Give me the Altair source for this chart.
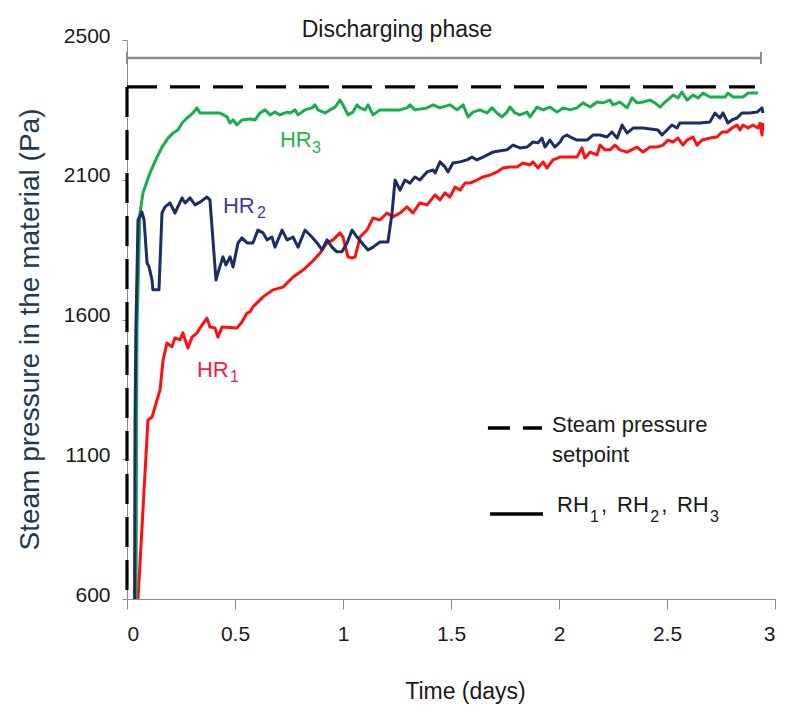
import altair as alt
import pandas as pd

# ---- data (time in days, pressure in Pa) ----
hr3 = [(0.042, 600), (0.044, 1100), (0.046, 1560), (0.060, 1981), (0.074, 2053), (0.106, 2124),
       (0.139, 2181), (0.162, 2217), (0.190, 2249), (0.213, 2267), (0.236, 2278), (0.255, 2303),
       (0.278, 2321), (0.306, 2339), (0.324, 2357), (0.338, 2339), (0.431, 2339), (0.463, 2325),
       (0.477, 2303), (0.491, 2314), (0.509, 2296), (0.532, 2314), (0.569, 2317), (0.593, 2314),
       (0.616, 2339), (0.639, 2350), (0.662, 2332), (0.685, 2342), (0.708, 2332), (0.741, 2342),
       (0.755, 2339), (0.778, 2350), (0.792, 2332), (0.824, 2350), (0.856, 2357), (0.870, 2368),
       (0.884, 2350), (0.917, 2339), (0.940, 2350), (0.963, 2360), (0.986, 2385), (1.000, 2368),
       (1.023, 2332), (1.046, 2342), (1.065, 2368), (1.079, 2357), (1.102, 2350), (1.116, 2368),
       (1.139, 2332), (1.171, 2350), (1.264, 2350), (1.296, 2357), (1.310, 2368), (1.333, 2350),
       (1.389, 2357), (1.417, 2368), (1.449, 2357), (1.495, 2368), (1.528, 2350), (1.556, 2368),
       (1.579, 2325), (1.602, 2342), (1.634, 2350), (1.667, 2339), (1.690, 2357), (1.713, 2339),
       (1.736, 2325), (1.759, 2342), (1.773, 2360), (1.796, 2339), (1.819, 2332), (1.852, 2342),
       (1.866, 2325), (1.898, 2360), (1.926, 2350), (1.958, 2360), (1.991, 2342), (2.019, 2357),
       (2.051, 2350), (2.083, 2357), (2.111, 2375), (2.144, 2360), (2.176, 2378), (2.204, 2375),
       (2.236, 2385), (2.250, 2368), (2.282, 2378), (2.315, 2357), (2.338, 2393), (2.361, 2375),
       (2.389, 2378), (2.421, 2385), (2.444, 2375), (2.468, 2360), (2.491, 2378), (2.514, 2393),
       (2.528, 2403), (2.551, 2393), (2.569, 2414), (2.593, 2385), (2.620, 2403), (2.644, 2393),
       (2.667, 2410), (2.699, 2396), (2.769, 2396), (2.782, 2410), (2.806, 2396), (2.852, 2396),
       (2.875, 2410), (2.921, 2410)]

hr2 = [(0.035, 600), (0.037, 1200), (0.041, 1560), (0.051, 1956), (0.069, 1985), (0.079, 1956),
       (0.093, 1802), (0.102, 1788), (0.116, 1741), (0.120, 1706), (0.148, 1706), (0.162, 1981),
       (0.176, 2003), (0.199, 2017), (0.222, 1981), (0.255, 2035), (0.269, 2017), (0.292, 2035),
       (0.315, 2010), (0.338, 2020), (0.370, 2038), (0.384, 2028), (0.398, 1885), (0.412, 1741),
       (0.421, 1766), (0.444, 1824), (0.458, 1795), (0.477, 1824), (0.491, 1788), (0.514, 1874),
       (0.532, 1892), (0.556, 1874), (0.583, 1874), (0.606, 1920), (0.630, 1910), (0.648, 1885),
       (0.671, 1895), (0.685, 1859), (0.718, 1920), (0.741, 1885), (0.769, 1895), (0.792, 1859),
       (0.824, 1920), (0.856, 1895), (0.880, 1874), (0.903, 1849), (0.926, 1885), (0.949, 1859),
       (0.972, 1842), (0.995, 1842), (1.019, 1874), (1.042, 1920), (1.065, 1895), (1.088, 1874),
       (1.116, 1849), (1.139, 1859), (1.171, 1877), (1.208, 1877), (1.227, 1981), (1.241, 2099),
       (1.264, 2063), (1.287, 2099), (1.310, 2088), (1.333, 2110), (1.356, 2099), (1.389, 2128),
       (1.417, 2135), (1.426, 2124), (1.449, 2164), (1.472, 2146), (1.486, 2128), (1.509, 2160),
       (1.542, 2164), (1.574, 2171), (1.597, 2181), (1.620, 2171), (1.648, 2181), (1.694, 2199),
       (1.759, 2207), (1.787, 2224), (1.819, 2214), (1.852, 2217), (1.880, 2235), (1.903, 2232),
       (1.921, 2249), (1.935, 2217), (1.958, 2242), (1.981, 2217), (2.005, 2235), (2.019, 2253),
       (2.037, 2260), (2.051, 2253), (2.083, 2242), (2.130, 2242), (2.157, 2260), (2.190, 2260),
       (2.222, 2253), (2.245, 2271), (2.269, 2249), (2.292, 2296), (2.315, 2267), (2.343, 2285),
       (2.389, 2285), (2.458, 2278), (2.477, 2260), (2.500, 2278), (2.523, 2296), (2.546, 2285),
       (2.560, 2303), (2.606, 2303), (2.653, 2303), (2.699, 2307), (2.722, 2339), (2.745, 2321),
       (2.759, 2339), (2.782, 2303), (2.801, 2314), (2.824, 2321), (2.847, 2339), (2.884, 2339),
       (2.917, 2342), (2.940, 2357), (2.944, 2339)]

hr1 = [(0.051, 600), (0.097, 1240), (0.116, 1251), (0.139, 1312), (0.153, 1348), (0.167, 1455),
       (0.185, 1516), (0.208, 1502), (0.222, 1534), (0.245, 1527), (0.259, 1552), (0.282, 1498),
       (0.301, 1537), (0.324, 1552), (0.347, 1580), (0.370, 1605), (0.384, 1573), (0.407, 1570),
       (0.421, 1537), (0.440, 1573), (0.509, 1570), (0.532, 1591), (0.556, 1623), (0.569, 1627),
       (0.583, 1645), (0.616, 1670), (0.630, 1681), (0.676, 1706), (0.722, 1716), (0.769, 1752),
       (0.815, 1777), (0.856, 1806), (0.894, 1838), (0.926, 1874), (0.954, 1885), (0.986, 1910),
       (1.000, 1895), (1.023, 1824), (1.042, 1820), (1.056, 1824), (1.079, 1895), (1.111, 1920),
       (1.139, 1963), (1.171, 1956), (1.204, 1981), (1.231, 1967), (1.264, 1981), (1.296, 2003),
       (1.324, 1981), (1.356, 2017), (1.389, 2010), (1.426, 2046), (1.449, 2028), (1.472, 2053),
       (1.495, 2038), (1.519, 2074), (1.542, 2063), (1.565, 2088), (1.588, 2088), (1.620, 2099),
       (1.648, 2110), (1.681, 2117), (1.713, 2128), (1.741, 2142), (1.773, 2146), (1.806, 2146),
       (1.833, 2160), (1.866, 2153), (1.880, 2164), (1.903, 2142), (1.926, 2164), (1.944, 2142),
       (1.972, 2171), (2.005, 2181), (2.083, 2181), (2.106, 2214), (2.120, 2178), (2.144, 2199),
       (2.176, 2189), (2.190, 2224), (2.213, 2207), (2.236, 2207), (2.259, 2224), (2.282, 2207),
       (2.315, 2199), (2.361, 2217), (2.389, 2199), (2.421, 2217), (2.454, 2217), (2.481, 2224),
       (2.505, 2242), (2.528, 2235), (2.551, 2249), (2.574, 2224), (2.593, 2242), (2.620, 2253),
       (2.639, 2224), (2.662, 2242), (2.699, 2249), (2.731, 2253), (2.755, 2271), (2.778, 2271),
       (2.801, 2285), (2.824, 2296), (2.838, 2278), (2.852, 2296), (2.875, 2285), (2.898, 2296),
       (2.921, 2285), (2.931, 2303), (2.940, 2260), (2.944, 2303)]

setpoint_value = 2432
setpoint_end = 2.907
phase_value = 2536
phase_end = 2.935
phase_cap = (2514, 2557)

x_ticks = [0, 0.5, 1, 1.5, 2, 2.5, 3]
y_ticks = [600, 1100, 1600, 2100, 2600]
y_tick_labels = ["600", "1100", "1600", "2100", "2500"]

FONT = "Liberation Sans, Arial, sans-serif"

# ---- tables ----
rows = []
for name, ser in [("HR1", hr1), ("HR2", hr2), ("HR3", hr3)]:
    for i, (t, p) in enumerate(ser):
        rows.append({"series": name, "t": t, "p": p, "i": i})
curves = pd.DataFrame(rows)

setpoint = pd.DataFrame([
    {"seg": "v", "i": 0, "t": 0.0, "p": setpoint_value},
    {"seg": "v", "i": 1, "t": 0.0, "p": 600},
    {"seg": "h", "i": 0, "t": 0.0, "p": setpoint_value},
    {"seg": "h", "i": 1, "t": setpoint_end, "p": setpoint_value},
])

y_label_expr = " : ".join(
    f"datum.value == {v} ? '{s}'" for v, s in zip(y_ticks, y_tick_labels)
) + " : ''"

X = alt.X("t:Q", scale=alt.Scale(domain=[0, 3], nice=False, zero=False),
          axis=alt.Axis(values=x_ticks, labelExpr="toString(datum.value)",
                        title="Time (days)", grid=False,
                        domainColor="#8c8c8c", tickColor="#8c8c8c", tickSize=10,
                        labelFont=FONT, labelFontSize=21, labelColor="#1a1a1a",
                        labelPadding=14,
                        titleFont=FONT, titleFontSize=23, titleFontWeight="normal",
                        titleColor="#1a1a1a", titleX=338, titleY=99,
                        titleBaseline="alphabetic", titleAlign="center"))
Y = alt.Y("p:Q", scale=alt.Scale(domain=[600, 2600], nice=False, zero=False),
          axis=alt.Axis(values=y_ticks, labelExpr=y_label_expr,
                        title="Steam pressure in the material (Pa)", grid=False,
                        domainColor="#8c8c8c", tickColor="#8c8c8c", tickSize=5,
                        labelFont=FONT, labelFontSize=21, labelColor="#1a1a1a",
                        labelPadding=12, labelBaseline="alphabetic", labelOffset=2,
                        titleFont=FONT, titleFontSize=28, titleFontWeight="normal",
                        titleColor="#1e3a4e", titleX=-97, titleY=289,
                        titleAngle=-90, titleAlign="center", titleBaseline="middle"))

# setpoint dashed path
sp_layer = alt.Chart(setpoint).mark_line(color="black", strokeWidth=3.2,
                                          strokeDash=[30, 13]).encode(
    x=X, y=Y, detail="seg:N", order="i:Q")

colors = {"HR1": "#ff1010", "HR2": "#1b2d63", "HR3": "#19ad4f"}
curve_layers = []
for name in ["HR1", "HR3", "HR2"]:
    curve_layers.append(
        alt.Chart(curves[curves.series == name]).mark_line(
            color=colors[name], strokeWidth=3, strokeJoin="round").encode(
            x=X, y=Y, order="i:Q"))

# discharging phase bar
phase = pd.DataFrame([{"t": 0.0, "p": phase_value}, {"t": phase_end, "p": phase_value}])
phase_line = alt.Chart(phase).mark_line(color="#8c8c8c", strokeWidth=2.5).encode(x=X, y=Y)
caps = pd.DataFrame([{"t": 0.0, "p": phase_cap[0], "p2": phase_cap[1]},
                     {"t": phase_end, "p": phase_cap[0], "p2": phase_cap[1]}])
phase_caps = alt.Chart(caps).mark_rule(color="#8c8c8c", strokeWidth=2).encode(
    x=X, y=Y, y2="p2:Q")
phase_text = alt.Chart(pd.DataFrame([{"t": 1.25, "p": 2611, "txt": "Discharging phase"}])
                       ).mark_text(font=FONT, fontSize=23, color="#1a1a1a",
                                   align="center", baseline="alphabetic").encode(
    x=X, y=Y, text="txt:N")

# curve labels and legend text pieces
labels = pd.DataFrame([
    {"t": 0.708, "p": 2217, "txt": "HR", "fs": 22, "col": "#28b24a"},
    {"t": 0.856, "p": 2196, "txt": "3", "fs": 16, "col": "#28b24a"},
    {"t": 0.444, "p": 1981, "txt": "HR", "fs": 22, "col": "#3c3ca0"},
    {"t": 0.602, "p": 1963, "txt": "2", "fs": 16, "col": "#3c3ca0"},
    {"t": 0.324, "p": 1394, "txt": "HR", "fs": 22, "col": "#f01e46"},
    {"t": 0.477, "p": 1376, "txt": "1", "fs": 16, "col": "#f01e46"},
    {"t": 1.968, "p": 1198, "txt": "Steam pressure", "fs": 22, "col": "#1a1a1a"},
    {"t": 1.968, "p": 1090, "txt": "setpoint", "fs": 22, "col": "#1a1a1a"},
    {"t": 1.991, "p": 911, "txt": "RH", "fs": 22, "col": "#1a1a1a"},
    {"t": 2.144, "p": 876, "txt": "1", "fs": 16, "col": "#1a1a1a"},
    {"t": 2.195, "p": 911, "txt": ",", "fs": 22, "col": "#1a1a1a"},
    {"t": 2.269, "p": 911, "txt": "RH", "fs": 22, "col": "#1a1a1a"},
    {"t": 2.422, "p": 876, "txt": "2", "fs": 16, "col": "#1a1a1a"},
    {"t": 2.473, "p": 911, "txt": ",", "fs": 22, "col": "#1a1a1a"},
    {"t": 2.546, "p": 911, "txt": "RH", "fs": 22, "col": "#1a1a1a"},
    {"t": 2.699, "p": 876, "txt": "3", "fs": 16, "col": "#1a1a1a"},
])
label_layer = alt.Chart(labels).mark_text(font=FONT, align="left",
                                          baseline="alphabetic").encode(
    x=X, y=Y, text="txt:N",
    size=alt.Size("fs:Q", scale=None),
    color=alt.Color("col:N", scale=None))

legend_dash = alt.Chart(pd.DataFrame([{"t": 1.671, "p": 1212}, {"t": 1.921, "p": 1212}])
                        ).mark_line(color="black", strokeWidth=3.5,
                                    strokeDash=[22, 13]).encode(x=X, y=Y)
legend_solid = alt.Chart(pd.DataFrame([{"t": 1.681, "p": 904}, {"t": 1.926, "p": 904}])
                         ).mark_line(color="black", strokeWidth=3.5).encode(x=X, y=Y)

chart = alt.layer(sp_layer, *curve_layers, phase_line, phase_caps, phase_text,
                  label_layer, legend_dash, legend_solid).properties(
    width=648, height=559,
    autosize=alt.AutoSizeParams(type="none"),
    padding={"left": 127, "top": 40, "right": 20, "bottom": 115},
    background="white",
).configure_view(stroke=None)

chart.save("out.html", embed_options={"renderer": "svg", "actions": False})
